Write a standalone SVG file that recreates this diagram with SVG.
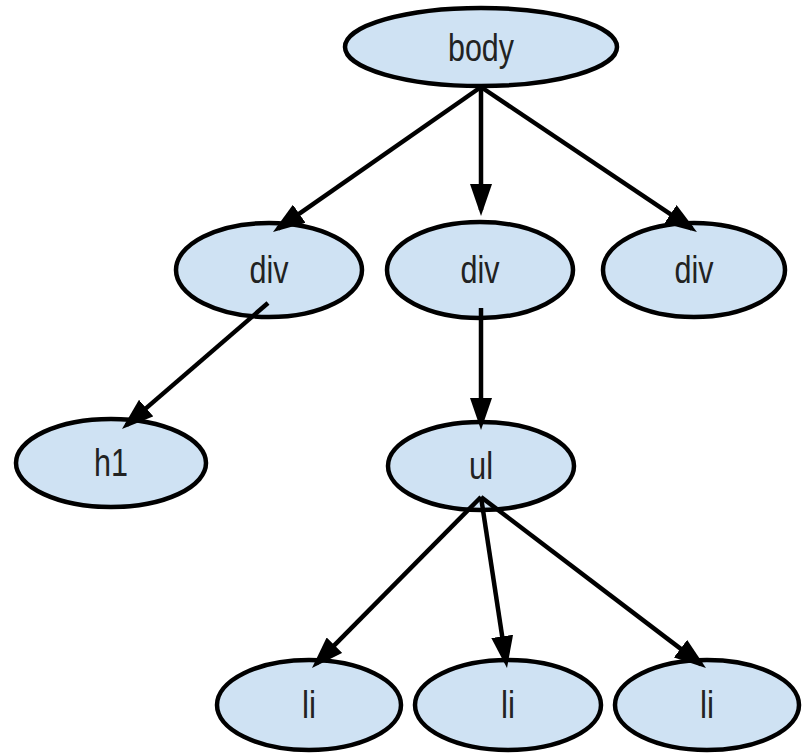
<svg xmlns="http://www.w3.org/2000/svg" width="803" height="754" viewBox="0 0 803 754">
<style>
.node ellipse{fill:#cfe2f3;stroke:#000;stroke-width:4.5}
.node text{font-family:"Liberation Sans",Arial,sans-serif;font-size:38px;fill:#222;text-anchor:middle}
.edge{stroke:#000;stroke-width:4.5;fill:none;marker-end:url(#arrow)}
</style>
<defs>
<marker id="arrow" markerUnits="userSpaceOnUse" markerWidth="32" markerHeight="22" refX="26" refY="11" orient="auto">
<path d="M0,0 L32,11 L0,22 Z" fill="#000"/>
</marker>
</defs>
<rect width="803" height="754" fill="#fff"/>
<g id="nodes">
<g id="body" class="node"><ellipse cx="481" cy="47" rx="136" ry="39"/><text x="481" y="61" textLength="66" lengthAdjust="spacingAndGlyphs">body</text></g>
<g id="div1" class="node"><ellipse cx="269" cy="270" rx="93" ry="47"/><text x="269" y="283" textLength="39" lengthAdjust="spacingAndGlyphs">div</text></g>
<g id="div2" class="node"><ellipse cx="480" cy="270" rx="93" ry="48"/><text x="480" y="283" textLength="39" lengthAdjust="spacingAndGlyphs">div</text></g>
<g id="div3" class="node"><ellipse cx="694" cy="270" rx="91" ry="47"/><text x="694" y="283" textLength="39" lengthAdjust="spacingAndGlyphs">div</text></g>
<g id="h1" class="node"><ellipse cx="111" cy="463" rx="95" ry="44"/><text x="111" y="476" textLength="34" lengthAdjust="spacingAndGlyphs">h1</text></g>
<g id="ul" class="node"><ellipse cx="481" cy="466" rx="93" ry="44"/><text x="481" y="479" textLength="24" lengthAdjust="spacingAndGlyphs">ul</text></g>
<g id="li1" class="node"><ellipse cx="309" cy="705" rx="92" ry="45"/><text x="309" y="718" textLength="14" lengthAdjust="spacingAndGlyphs">li</text></g>
<g id="li2" class="node"><ellipse cx="508" cy="705" rx="93" ry="45"/><text x="508" y="718" textLength="14" lengthAdjust="spacingAndGlyphs">li</text></g>
<g id="li3" class="node"><ellipse cx="707" cy="705" rx="92" ry="45"/><text x="707" y="718" textLength="14" lengthAdjust="spacingAndGlyphs">li</text></g>
</g>
<g id="connectors">
<line class="edge" x1="481" y1="87" x2="277.9" y2="228.6"/>
<line class="edge" x1="481" y1="87" x2="481" y2="210"/>
<line class="edge" x1="481" y1="87" x2="692" y2="228.7"/>
<line class="edge" x1="268" y1="303" x2="126.5" y2="425.1"/>
<line class="edge" x1="481" y1="308" x2="481" y2="424"/>
<line class="edge" x1="481" y1="497" x2="316.2" y2="663.7"/>
<line class="edge" x1="481" y1="497" x2="506.1" y2="662.1"/>
<line class="edge" x1="481" y1="497" x2="701.2" y2="664.4"/>
</g>
</svg>
